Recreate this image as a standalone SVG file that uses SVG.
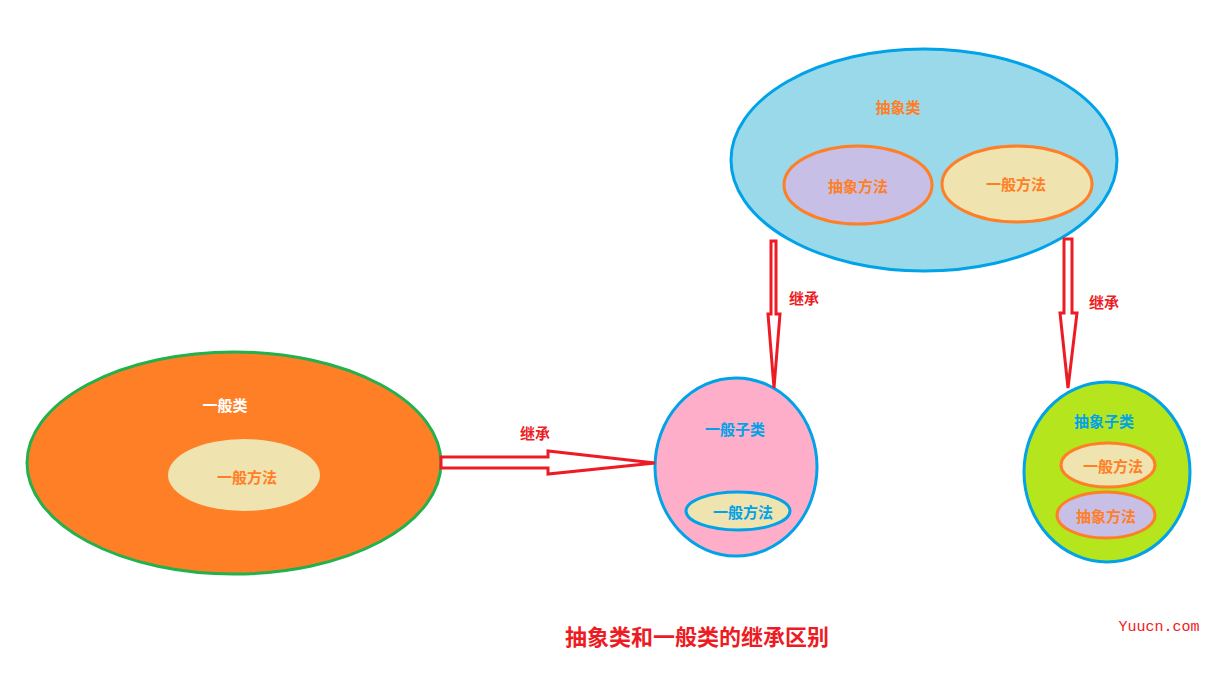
<svg xmlns="http://www.w3.org/2000/svg" width="1220" height="681" viewBox="0 0 1220 681">
<style>
text{font-family:"Noto Sans CJK SC","Liberation Sans",sans-serif;font-weight:bold;font-size:15px;text-anchor:middle;dominant-baseline:central}
.arr{fill:#fff;stroke:#ed1c24;stroke-width:3;stroke-linejoin:miter}
.lbl{fill:#ed1c24}
</style>
<rect width="1220" height="681" fill="#fff"/>
<g id="abstract">
<ellipse cx="924" cy="160" rx="193" ry="111" fill="#99d9ea" stroke="#00a2e8" stroke-width="3"/>
<text x="898" y="106" fill="#ff7f27">抽象类</text>
</g>
<g id="abstract-method">
<ellipse cx="858" cy="185" rx="74" ry="39" fill="#c8bfe7" stroke="#ff7f27" stroke-width="3"/>
<text x="858" y="185" fill="#ff7f27">抽象方法</text>
</g>
<g id="abstract-normal-method">
<ellipse cx="1017" cy="184" rx="75" ry="38" fill="#efe4b0" stroke="#ff7f27" stroke-width="3"/>
<text x="1016" y="183" fill="#ff7f27">一般方法</text>
</g>
<g id="normal">
<ellipse cx="234" cy="463" rx="207" ry="111" fill="#ff7f27" stroke="#22b14c" stroke-width="3"/>
<text x="225" y="404" fill="#fff">一般类</text>
<ellipse cx="244" cy="475" rx="76" ry="36" fill="#efe4b0"/>
<text x="247" y="476" fill="#ff7f27">一般方法</text>
</g>
<g id="normal-sub">
<ellipse cx="736" cy="467" rx="81" ry="89" fill="#ffaec9" stroke="#00a2e8" stroke-width="3"/>
<text x="735" y="428" fill="#00a2e8">一般子类</text>
<ellipse cx="738" cy="511" rx="52" ry="19" fill="#efe4b0" stroke="#00a2e8" stroke-width="3"/>
<text x="743" y="511" fill="#00a2e8">一般方法</text>
</g>
<g id="abstract-sub">
<ellipse cx="1107" cy="472" rx="83" ry="90" fill="#b5e61d" stroke="#00a2e8" stroke-width="3"/>
<text x="1104" y="420" fill="#00a2e8">抽象子类</text>
<ellipse cx="1108" cy="465" rx="47" ry="22" fill="#efe4b0" stroke="#ff7f27" stroke-width="3"/>
<text x="1113" y="465" fill="#ff7f27">一般方法</text>
<ellipse cx="1106" cy="515" rx="49" ry="23" fill="#c8bfe7" stroke="#ff7f27" stroke-width="3"/>
<text x="1106" y="515" fill="#ff7f27">抽象方法</text>
</g>
<g id="connectors">
<path class="arr" d="M441,457 H548 V451 L655,463 L548,474 V468 H441 Z"/>
<path class="arr" d="M771,241 H776 V314 H780 L774,388 L768,314 H771 Z"/>
<path class="arr" d="M1064,239 H1072 V313 H1077 L1068,388 L1060,313 H1064 Z"/>
<text class="lbl" x="535" y="432">继承</text>
<text class="lbl" x="804" y="297">继承</text>
<text class="lbl" x="1104" y="301">继承</text>
</g>
<text x="697" y="635" fill="#ed1c24" style="font-size:22px">抽象类和一般类的继承区别</text>
<text x="1159" y="627" fill="#ed1c24" style="font-family:'Liberation Mono',monospace;font-weight:normal;font-size:15px">Yuucn.com</text>
</svg>
